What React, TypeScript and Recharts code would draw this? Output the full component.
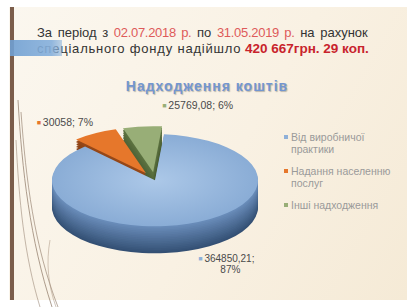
import { PieChart, Pie, Cell, Sector } from 'recharts';

const categories = ['Від виробничої практики', 'Надання населенню послуг', 'Інші надходження'];
const legendLines = [['Від виробничої', 'практики'], ['Надання населенню', 'послуг'], ['Інші надходження']];
const amounts = [364850.21, 30058, 25769.08];

const data = categories.map((name, i) => ({ name, value: amounts[i] }));

// colours: top face, side (light end), side (dark end), legend marker
const topColors = ['url(#blueTop)', '#e6772b', '#98ae77'];
const sideLight = [[104, 139, 184], [150, 72, 24], [92, 114, 64]];
const sideDark = [[52, 80, 116], [100, 46, 14], [60, 78, 42]];
const markerColors = ['#8fb0d8', '#e6772b', '#98ae77'];

// label placement relative to the sector's outer point (screen px)
const labelNudge: [number, number][] = [[38, 35], [-67, -17], [18, -28]];

const K = 0.447; // vertical squash of the pie
const TOP = 96;
const CX = 150;
const CY = (178 - TOP) / K;
const R = 103;
const DEPTH = 27 / K;
const LAYERS = 16;
const EXPLODE = 18;
const RAD = Math.PI / 180;

const fmt = (v: number) => String(v).replace('.', ',');

const mix = (a: number[], b: number[], t: number) =>
  `rgb(${a.map((c, i) => Math.round(c + (b[i] - c) * t)).join(',')})`;

const explodedSector = (props: any) => {
  const { cx, cy, midAngle, percent } = props;
  const d = percent < 0.5 ? EXPLODE : 0;
  return (
    <Sector
      {...props}
      cx={cx + d * Math.cos(-midAngle * RAD)}
      cy={cy + d * Math.sin(-midAngle * RAD)}
    />
  );
};

const renderLabel = (props: any) => {
  const { cx, cy, midAngle, outerRadius, index, value, percent } = props;
  const px = cx + outerRadius * Math.cos(-midAngle * RAD);
  const py = cy + outerRadius * Math.sin(-midAngle * RAD);
  const [dx, dy] = labelNudge[index];
  const pct = `${Math.round(percent * 100)}%`;
  const wrap = index === 0;
  return (
    <g transform={`translate(${px},${py}) scale(1,${1 / K}) translate(${dx},${dy})`}>
      <text
        x={0}
        y={0}
        textAnchor={wrap ? 'middle' : 'start'}
        dominantBaseline="middle"
        fontFamily="'Liberation Sans', Arial, sans-serif"
        fontSize={wrap ? 10 : 10.5}
        fill="#4a4a4a"
      >
        <tspan fill={markerColors[index]} fontSize={7}>■ </tspan>
        <tspan>{wrap ? `${fmt(value)};` : `${fmt(value)}; ${pct}`}</tspan>
        {wrap && (
          <tspan x={4} dy={11}>
            {pct}
          </tspan>
        )}
      </text>
    </g>
  );
};

export default function App() {
  const offsets = Array.from({ length: LAYERS }, (_, i) => DEPTH - (i * DEPTH) / LAYERS);
  const red = { color: '#de5a5a' };
  return (
    <div
      style={{
        position: 'relative',
        width: 407,
        height: 307,
        overflow: 'hidden',
        background: '#ffffff',
        fontFamily: "'Liberation Sans', Arial, sans-serif",
      }}
    >
      <style>{'body{margin:0}'}</style>
      {/* slide background */}
      <div
        style={{
          position: 'absolute',
          left: 9,
          top: 7,
          width: 398,
          height: 293,
          background: 'linear-gradient(120deg, #fbf7ef 0%, #f9f1e3 55%, #f5ead6 100%)',
        }}
      />
      <div style={{ position: 'absolute', left: 10, top: 7, width: 4, height: 293, background: '#7b5d4b' }} />
      <svg width={407} height={307} style={{ position: 'absolute', left: 0, top: 0 }}>
        <path d="M18 100 C 22 170, 30 240, 52 307" stroke="#8c7664" strokeWidth={1} fill="none" opacity={0.7} />
        <path d="M21 112 C 26 180, 34 245, 58 307" stroke="#8c7664" strokeWidth={1} fill="none" opacity={0.6} />
        <path d="M16 140 C 19 200, 24 255, 40 307" stroke="#8c7664" strokeWidth={1} fill="none" opacity={0.5} />
        <path d="M50 240 C 46 262, 48 285, 56 307" stroke="#a8927e" strokeWidth={1} fill="none" opacity={0.5} />
      </svg>

      {/* header */}
      <div
        style={{
          position: 'absolute',
          left: 37,
          top: 25,
          width: 370,
          fontSize: 13,
          lineHeight: '16px',
          color: '#333',
          whiteSpace: 'nowrap',
        }}
      >
        <div style={{ wordSpacing: 2 }}>
          За період з <span style={{ ...red, letterSpacing: -0.3 }}>02.07.2018 р.</span> по{' '}
          <span style={{ ...red, letterSpacing: -0.3 }}>31.05.2019 р.</span> на рахунок
        </div>
        <div>
          <span style={{ letterSpacing: 0.8 }}>спеціального фонду надійшло</span>{' '}
          <span style={{ color: '#c8232c', fontWeight: 'bold', fontSize: 13.5 }}>420 667грн. 29 коп.</span>
        </div>
      </div>
      <div
        style={{
          position: 'absolute',
          left: 10,
          top: 40,
          width: 52,
          height: 16,
          background: 'linear-gradient(90deg, #6f9fd2 0%, #86b0dc 80%, rgba(134,176,220,0.6) 100%)',
          opacity: 0.9,
        }}
      />

      {/* title */}
      <div
        style={{
          position: 'absolute',
          left: 0,
          top: 78,
          width: 414,
          textAlign: 'center',
          fontSize: 14,
          fontWeight: 'bold',
          letterSpacing: 1,
          color: '#7396d0',
          textShadow: '1px 1px 1px rgba(0,0,0,0.25)',
        }}
      >
        Надходження коштів
      </div>

      {/* pie, squashed vertically to look tilted */}
      <div
        style={{
          position: 'absolute',
          left: 0,
          top: TOP,
          width: 407,
          height: 420,
          transform: `scaleY(${K})`,
          transformOrigin: 'top left',
        }}
      >
        <PieChart width={407} height={420}>
          <defs>
            <radialGradient id="blueTop" cx="50%" cy="50%" r="60%">
              <stop offset="0%" stopColor="#acc8e8" />
              <stop offset="100%" stopColor="#83a7d2" />
            </radialGradient>
          </defs>
          {offsets.map((off, li) => (
            <Pie
              key={li}
              data={data}
              dataKey="value"
              cx={CX}
              cy={CY + off}
              outerRadius={R}
              startAngle={85}
              endAngle={-275}
              stroke="none"
              shape={explodedSector}
              isAnimationActive={false}
            >
              {data.map((d, i) => (
                <Cell key={d.name} fill={mix(sideDark[i], sideLight[i], li / (LAYERS - 1))} />
              ))}
            </Pie>
          ))}
          <Pie
            data={data}
            dataKey="value"
            cx={CX}
            cy={CY}
            outerRadius={R}
            startAngle={85}
            endAngle={-275}
            stroke="none"
            shape={explodedSector}
            isAnimationActive={false}
            label={renderLabel}
            labelLine={false}
          >
            {data.map((d, i) => (
              <Cell key={d.name} fill={topColors[i]} />
            ))}
          </Pie>
        </PieChart>
      </div>

      {/* legend */}
      <div
        style={{
          position: 'absolute',
          left: 284,
          top: 131,
          fontSize: 10.5,
          lineHeight: '12px',
          color: '#9a9a9a',
        }}
      >
        {legendLines.map((lines, i) => (
          <div key={i} style={{ position: 'relative', paddingLeft: 7, marginBottom: 10 }}>
            <span
              style={{
                position: 'absolute',
                left: 0,
                top: 4,
                width: 4,
                height: 4,
                background: markerColors[i],
              }}
            />
            {lines.map((l) => (
              <div key={l} style={{ color: '#9a9a9a' }}>
                {l}
              </div>
            ))}
          </div>
        ))}
      </div>
    </div>
  );
}
